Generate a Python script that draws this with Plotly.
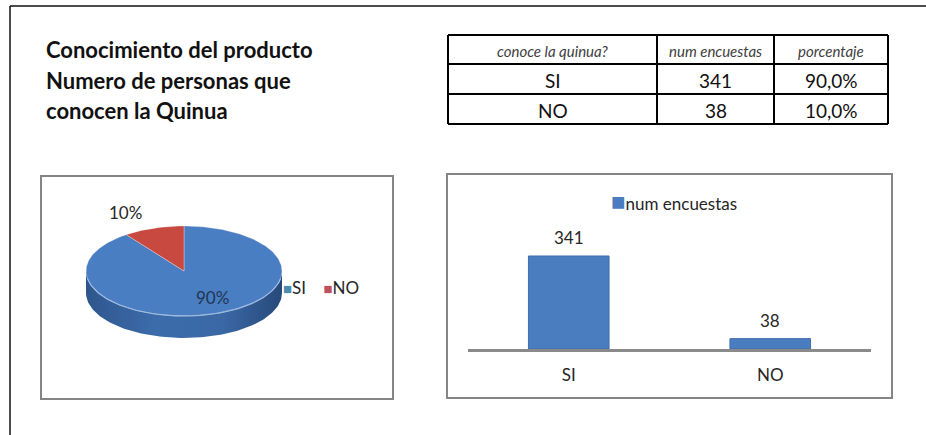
import numpy as np
import plotly.graph_objects as go

# ---- data ----
categories = ["SI", "NO"]
num_encuestas = [341, 38]
porcentaje_txt = ["90,0%", "10,0%"]
table_header = ["conoce la quinua?", "num encuestas", "porcentaje"]
title_lines = ["Conocimiento del producto", "Numero de personas que", "conocen la Quinua"]
series_name = "num encuestas"

W, H = 926, 435
FONT = "Lato, 'Open Sans', sans-serif"
BLUE = "#4A7EC2"
RED = "#C8493F"


def px(x):
    return x / W


def py(y):
    return 1 - y / H


fig = go.Figure()
annotations = []
shapes = []

# ---- 3D-style pie (drawn on its own axes, units = screen pixels) ----
PIE_BOX = (41, 176, 393, 399)
cx, cy, rx, ry, depth = 184, 271, 98, 45, 22


def ellipse(theta_deg, dy=0.0):
    t = np.radians(theta_deg)
    return cx + rx * np.cos(t), cy - ry * np.sin(t) + dy


# side wall (front half)
th = np.linspace(180, 360, 120)
xs_top, ys_top = ellipse(th)
xs_bot, ys_bot = ellipse(th[::-1], depth)
fig.add_trace(go.Scatter(
    x=np.concatenate([xs_top, xs_bot]), y=np.concatenate([ys_top, ys_bot]),
    fill="toself", mode="lines", line=dict(width=0),
    fillgradient=dict(type="horizontal",
                      colorscale=[[0, "#2E568C"], [0.35, "#3C6CAB"], [0.7, "#3A68A5"], [1, "#27497A"]]),
    xaxis="x", yaxis="y", hoverinfo="skip", showlegend=False))

# top face wedges (clockwise from 12 o'clock)
total = sum(num_encuestas)
slice_colors = [BLUE, RED]
start = 90.0
for val, col in zip(num_encuestas, slice_colors):
    sweep = val / total * 360
    t = np.linspace(start, start - sweep, max(int(sweep), 4))
    ex, ey = ellipse(t)
    fig.add_trace(go.Scatter(
        x=np.concatenate([[cx], ex, [cx]]), y=np.concatenate([[cy], ey, [cy]]),
        fill="toself", mode="lines", line=dict(width=0.6, color="rgba(255,255,255,0.5)"),
        fillcolor=col, xaxis="x", yaxis="y", hoverinfo="skip", showlegend=False))
    start -= sweep

# light rim along the front edge
rx_, ry_ = ellipse(np.linspace(190, 350, 80))
fig.add_trace(go.Scatter(x=rx_, y=ry_, mode="lines", line=dict(color="#9DB9E0", width=1.2),
                         xaxis="x", yaxis="y", hoverinfo="skip", showlegend=False))

pie_label_pos = [(212, 297), (125, 212)]
pie_label_col = ["#1F3556", "#262626"]
for val, (lx, ly), lc in zip(num_encuestas, pie_label_pos, pie_label_col):
    annotations.append(dict(x=lx, y=ly, xref="x", yref="y", text=f"{round(val / total * 100)}%",
                            showarrow=False, font=dict(family=FONT, size=17, color=lc)))

# pie legend
annotations.append(dict(
    x=px(281), y=py(287), xref="paper", yref="paper", xanchor="left", yanchor="middle",
    text=(f"<span style='color:#4B8BB0;font-size:15px'>■</span>{categories[0]}"
          f"&nbsp;&nbsp;&nbsp;&nbsp;<span style='color:#C0505F;font-size:15px'>■</span>{categories[1]}"),
    showarrow=False, font=dict(family=FONT, size=17, color="#262626")))

# ---- bar chart ----
BAR_BOX = (447, 174, 892, 398)
fig.add_trace(go.Bar(
    x=categories, y=num_encuestas, width=0.4,
    marker=dict(color="#4A7CC0", line=dict(color="#3F6DAE", width=1)),
    xaxis="x2", yaxis="y2", hoverinfo="skip", showlegend=False, name=series_name))

# value labels above the bars
for cat, val in zip(categories, num_encuestas):
    annotations.append(dict(x=cat, y=val, xref="x2", yref="y2", text=str(val), yanchor="bottom",
                            yshift=6, showarrow=False, font=dict(family=FONT, size=17, color="#262626")))

annotations.append(dict(
    x=px(609), y=py(200), xref="paper", yref="paper", xanchor="left", yanchor="middle",
    text=f"<span style='color:#4A7CC0;font-size:24px'>■</span>{series_name}",
    showarrow=False, font=dict(family=FONT, size=17, color="#262626")))

# ---- title ----
for i, line in enumerate(title_lines):
    annotations.append(dict(x=px(44), y=py(50 + 30 * i), xref="paper", yref="paper",
                            xanchor="left", yanchor="middle", text=f"<b>{line}</b>",
                            showarrow=False, font=dict(family=FONT, size=22, color="#111111")))

# ---- summary table (grid + cell text) ----
col_edges = [448, 657, 774, 888]
row_edges = [35, 64, 94, 124]
table_cols = [categories, [str(v) for v in num_encuestas], porcentaje_txt]
for xe in col_edges:
    shapes.append(dict(type="line", xref="paper", yref="paper", x0=px(xe), x1=px(xe),
                       y0=py(row_edges[-1]), y1=py(row_edges[0]), line=dict(color="#000000", width=2)))
for ye in row_edges:
    shapes.append(dict(type="line", xref="paper", yref="paper", x0=px(col_edges[0]), x1=px(col_edges[-1]),
                       y0=py(ye), y1=py(ye), line=dict(color="#000000", width=2)))
for c, head in enumerate(table_header):
    xc = (col_edges[c] + col_edges[c + 1]) / 2
    annotations.append(dict(x=px(xc), y=py(row_edges[1] - 13), xref="paper", yref="paper",
                            text=f"<i>{head}</i>", showarrow=False, xanchor="center", yanchor="middle",
                            font=dict(family=FONT, size=15, color="#404040")))
    for r, cell in enumerate(table_cols[c]):
        yc = (row_edges[r + 1] + row_edges[r + 2]) / 2 + 1
        annotations.append(dict(x=px(xc), y=py(yc), xref="paper", yref="paper", text=cell,
                                showarrow=False, xanchor="center", yanchor="middle",
                                font=dict(family=FONT, size=19, color="#111111")))

# ---- frames ----
shapes += [
    dict(type="line", xref="paper", yref="paper", x0=px(10), x1=1, y0=py(6), y1=py(6),
         line=dict(color="#111111", width=1.5)),
    dict(type="line", xref="paper", yref="paper", x0=px(10), x1=px(10), y0=py(6), y1=0,
         line=dict(color="#111111", width=1.5)),
    dict(type="rect", xref="paper", yref="paper", x0=px(PIE_BOX[0]), x1=px(PIE_BOX[2]),
         y0=py(PIE_BOX[3]), y1=py(PIE_BOX[1]), line=dict(color="#858585", width=2)),
    dict(type="rect", xref="paper", yref="paper", x0=px(BAR_BOX[0]), x1=px(BAR_BOX[2]),
         y0=py(BAR_BOX[3]), y1=py(BAR_BOX[1]), line=dict(color="#858585", width=2)),
]

axis_off = dict(visible=False, showgrid=False, zeroline=False, fixedrange=True)
bar_px_per_unit = 93 / 341
y_top_val = 400
fig.update_layout(
    width=W, height=H, margin=dict(l=0, r=0, t=0, b=0),
    paper_bgcolor="white", plot_bgcolor="rgba(0,0,0,0)",
    xaxis=dict(domain=[px(PIE_BOX[0]), px(PIE_BOX[2])], range=[PIE_BOX[0], PIE_BOX[2]], **axis_off),
    yaxis=dict(domain=[py(PIE_BOX[3]), py(PIE_BOX[1])], range=[PIE_BOX[3], PIE_BOX[1]], **axis_off),
    xaxis2=dict(domain=[px(468), px(871)], anchor="y2", showgrid=False, zeroline=False,
                showline=True, linecolor="#8A8A8A", linewidth=3, ticks="outside", ticklen=9,
                tickcolor="rgba(0,0,0,0)", tickfont=dict(family=FONT, size=17, color="#262626"),
                fixedrange=True),
    yaxis2=dict(domain=[py(349), py(349 - y_top_val * bar_px_per_unit)], range=[0, y_top_val],
                anchor="x2", **axis_off),
    shapes=shapes, annotations=annotations, showlegend=False,
)

fig.write_html("out.html")
